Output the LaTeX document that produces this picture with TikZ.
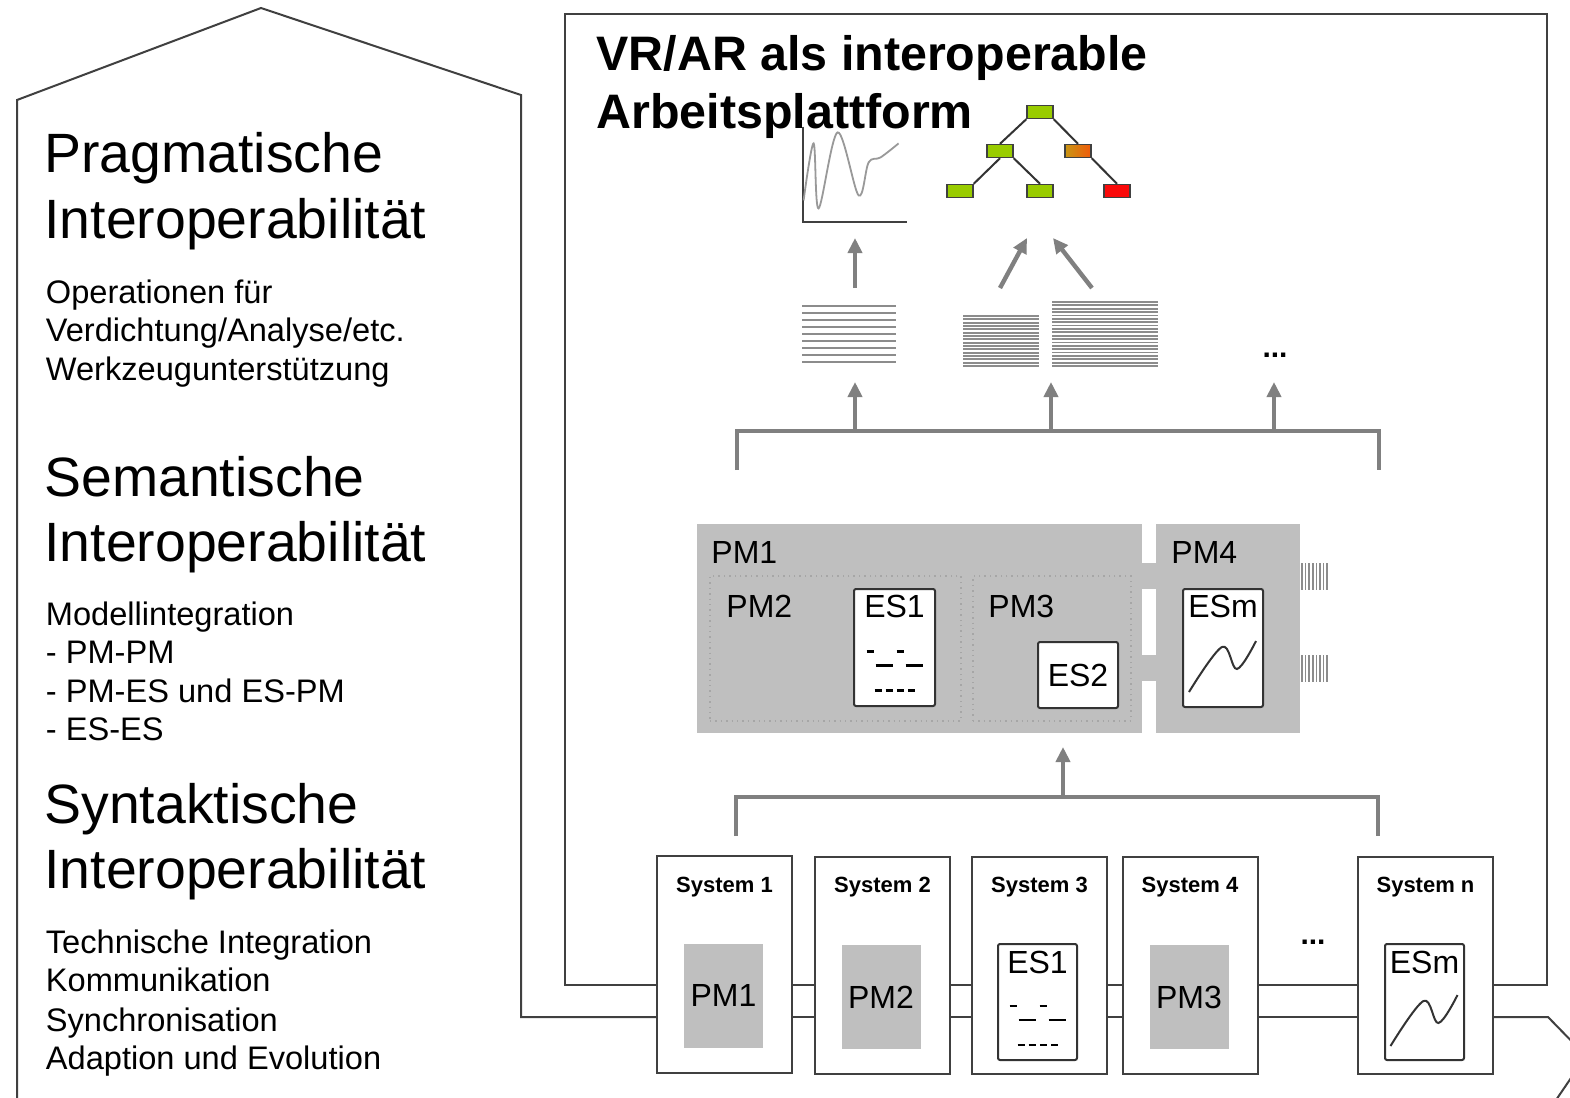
\documentclass[tikz,border=0pt]{standalone}
\usepackage{fontspec}
\setmainfont{Liberation Sans}
\usetikzlibrary{arrows.meta,shapes,calc,positioning}
\definecolor{leafgreen}{RGB}{153,204,0}
\definecolor{leafred}{RGB}{250,10,10}
\definecolor{leaforange}{RGB}{240,90,10}
\definecolor{leafolive}{RGB}{200,150,20}

\newcommand{\esdash}[1]{%
  \begin{scope}[shift={(#1.center)}]
    \draw[dashmark] (-28,4) -- (-21,4) (2,4) -- (9,4);
    \draw[dashmark] (-19,18) -- (-2,18) (11,18) -- (28,18);
    \draw[dashmark, dash pattern=on 3.6pt off 2pt] (-20,43) -- (21,43);
  \end{scope}}
\newcommand{\escurve}[1]{%
  \begin{scope}[shift={(#1.center)}]
    \draw[esline] plot[smooth, tension=0.6] coordinates {(-34,44) (-1,-1) (14,21) (33,-7)};
  \end{scope}}

\begin{document}
\begin{tikzpicture}[x=0.5pt, y=-0.5pt]
\tikzstyle{wall}=[draw=black!75, line width=1pt]
\tikzstyle{bigtxt}=[anchor=base west, inner sep=0pt, font=\fontsize{27.7}{30}\selectfont]
\tikzstyle{smalltxt}=[anchor=base west, inner sep=0pt, font=\fontsize{16.3}{18}\selectfont]
\tikzstyle{toptxt}=[anchor=base west, inner sep=0pt, font=\bfseries\fontsize{24.2}{28}\selectfont]
\tikzstyle{sysbox}=[rectangle, wall, fill=white, minimum width=67.5pt, minimum height=108.5pt, inner sep=0pt]
\tikzstyle{systxt}=[inner sep=0pt, font=\bfseries\fontsize{11}{13}\selectfont]
\tikzstyle{pmfill}=[rectangle, fill=black!25, inner sep=0pt]
\tikzstyle{pmbox}=[pmfill, minimum width=39.5pt, minimum height=52pt, font=\fontsize{16}{18}\selectfont]
\tikzstyle{pmtxt}=[anchor=west, inner sep=0pt, font=\fontsize{16}{18}\selectfont]
\tikzstyle{subframe}=[rectangle, draw=black!35, dotted, line width=0.7pt, inner sep=0pt, minimum height=72.5pt]
\tikzstyle{esbox}=[rectangle, draw=black!80, line width=1pt, fill=white, rounded corners=1pt, inner sep=0pt, minimum width=40pt, minimum height=58.5pt, font=\fontsize{16}{18}\selectfont]
\tikzstyle{estxt}=[inner sep=0pt, font=\fontsize{16}{18}\selectfont]
\tikzstyle{uparrow}=[-{Triangle[length=7.5pt,width=7pt]}, line width=2.2pt, draw=black!50]
\tikzstyle{bracket}=[line width=2pt, draw=black!50]
\tikzstyle{datline}=[draw=black!45, line width=1.1pt]
\tikzstyle{denseline}=[draw=black!45, line width=0.9pt]
\tikzstyle{combline}=[draw=black!45, line width=0.8pt]
\tikzstyle{leaf}=[rectangle, draw=black!75, line width=0.7pt, fill=leafgreen, minimum width=13pt, minimum height=6.5pt, inner sep=0pt]
\tikzstyle{branch}=[draw=black!80, line width=1pt]
\tikzstyle{esline}=[draw=black!80, line width=1pt]
\tikzstyle{chartline}=[draw=black!40, line width=0.9pt]
\tikzstyle{dashmark}=[draw=black, line width=1.3pt]
\tikzstyle{dotstxt}=[anchor=base, inner sep=0pt, font=\bfseries\fontsize{15}{17}\selectfont]

  \fill[white] (0,0) rectangle (1570,1098);
  \useasboundingbox (0,0) rectangle (1570,1098);

  \coordinate (busA) at (0,985);
  \coordinate (busB) at (0,1017);

  \node[sysbox] (s1) at (724.5,964.5) {};
  \node[sysbox] (s2) at (882.5,965) {};
  \node[sysbox] (s3) at (1039.5,965) {};
  \node[sysbox] (s4) at (1190,965) {};
  \node[sysbox] (sn) at (1425.5,965) {};
  \foreach \s/\t in {s1/System 1, s2/System 2, s3/System 3, s4/System 4, sn/System n}
    \node[systxt] (\s-t) at ($(\s.north)+(0,32)$) {\t};

  \node[pmbox] (s1pm) at ($(s1.center)+(-1,31)$) {PM1};
  \node[pmbox] (s2pm) at ($(s2.center)+(-1.5,32)$) {PM2};
  \node[esbox, minimum width=39.5pt, minimum height=58pt] (s3es) at ($(s3.center)+(-2,37)$) {};
  \node[estxt] (s3es-t) at ($(s3es.north)+(0,19)$) {ES1};
  \node[pmbox] (s4pm) at ($(s4.center)+(-1,32)$) {PM3};
  \node[esbox, minimum width=39.5pt, minimum height=58pt] (snes) at ($(sn.center)+(-1,37)$) {};
  \node[estxt] (snes-t) at ($(snes.north)+(0,19)$) {ESm};
  \esdash{s3es}
  \escurve{snes}
  \node[dotstxt] (sdots) at (1313,944) {...};

  \begin{scope}
    \clip (0,0) rectangle (1570,1098);
    \draw[wall] (17,1110) -- (17,100) -- (261,8) -- (521,95) |- (s1.west |- busB);
    \draw[wall] (sn.east |- busB) -- (1548,1017) -- (1586,1056) -- (1556,1100);
  \end{scope}
  \draw[wall] (s1.west |- busA) -| (565,14) -- (1547,14) |- (sn.east |- busA);
  \foreach \a/\b in {s1/s2, s2/s3, s3/s4, s4/sn} {
    \draw[wall] (\a.east |- busA) -- (\b.west |- busA);
    \draw[wall] (\a.east |- busB) -- (\b.west |- busB);
  }

  \node[toptxt] (vr1) at (596,70) {VR/AR als interoperable};
  \node[toptxt] (vr2) at (596,128) {Arbeitsplattform};

  \foreach \n/\y/\t in {hp1/172/Pragmatische, hp2/238/Interoperabilität, hs1/496/Semantische, hs2/561/Interoperabilität, hy1/823/Syntaktische, hy2/888/Interoperabilität}
    \node[bigtxt] (\n) at (44,\y) {\t};
  \foreach \n/\y/\t in {tp1/303/{Operationen für}, tp2/341/{Verdichtung/Analyse/etc.}, tp3/380/{Werkzeugunterstützung}, ts1/625/{Modellintegration}, ts2/663/{- PM-PM}, ts3/702/{- PM-ES und ES-PM}, ts4/740/{- ES-ES}, ty1/953/{Technische Integration}, ty2/991/{Kommunikation}, ty3/1031/{Synchronisation}, ty4/1069/{Adaption und Evolution}}
    \node[smalltxt] (\n) at (45.5,\y) {\t};

  \node[pmfill, minimum width=222.5pt, minimum height=104.5pt] (pm1) at (919.5,628.5) {};
  \node[pmfill, minimum width=72pt, minimum height=104.5pt] (pm4) at (1228,628.5) {};
  \fill[black!25] (pm1.east |- 0,563) rectangle (pm4.west |- 0,589);
  \fill[black!25] (pm1.east |- 0,655) rectangle (pm4.west |- 0,681);
  \foreach \y in {563,655}
    \foreach \i in {0,...,7}
      \draw[combline] (1302+3.6*\i,\y) -- (1302+3.6*\i,\y+27);
  \node[subframe, minimum width=125.5pt] (pm2) at (835.5,648.5) {};
  \node[subframe, minimum width=79pt] (pm3) at (1052,648.5) {};
  \node[pmtxt] (pm1-t) at (711,552) {PM1};
  \node[pmtxt] (pm2-t) at (726,606) {PM2};
  \node[pmtxt] (pm3-t) at (988,606) {PM3};
  \node[pmtxt] (pm4-t) at (1171,552) {PM4};
  \node[esbox, minimum width=40.5pt] (es1) at (894.5,647.5) {};
  \node[estxt] (es1-t) at ($(es1.north)+(0,18)$) {ES1};
  \node[esbox, minimum height=33pt] (es2) at (1078,675) {ES2};
  \node[esbox, minimum height=59pt] (esm) at (1223,648) {};
  \node[estxt] (esm-t) at ($(esm.north)+(0,18)$) {ESm};
  \esdash{es1}
  \escurve{esm}

  \draw[bracket] (736,836) |- (1378,797) -- (1378,836);
  \coordinate (lowfoot) at (1063,797);
  \draw[uparrow] (lowfoot) -- (lowfoot |- 0,747);

  \draw[bracket] (737,470) |- (1379,431) -- (1379,470);
  \foreach \x in {855,1051,1274}
    \draw[uparrow] (\x,431) -- (\x,382);

  \node[inner sep=0pt, minimum width=47pt, minimum height=28pt] (blk1) at (849,334) {};
  \foreach \i in {0,...,8}
    \draw[datline] (802,306+7*\i) -- (896,306+7*\i);
  \node[inner sep=0pt, minimum width=38pt, minimum height=25pt] (blk2) at (1001,341) {};
  \foreach \i in {0,...,15}
    \draw[denseline] (963,316+3.33*\i) -- (1039,316+3.33*\i);
  \node[inner sep=0pt, minimum width=53pt, minimum height=32pt] (blk3) at (1105,334) {};
  \foreach \i in {0,...,19}
    \draw[denseline] (1052,302+3.37*\i) -- (1158,302+3.37*\i);
  \node[dotstxt] (bdots) at (1275,357) {...};

  \node[inner sep=0pt, minimum width=52pt, minimum height=47.5pt] (chart) at (855,174.5) {};
  \draw[draw=black!75, line width=1pt] (chart.north west) |- (chart.south east);
  \begin{scope}[shift={(chart.south west)}]
    \draw[chartline] plot[smooth, tension=0.55] coordinates {(1,-22) (11,-79) (16,-14) (35,-90) (56,-27) (66,-60) (78,-65) (96,-79)};
  \end{scope}

  \node[leaf] (root) at (1040,112) {};
  \node[leaf] (c1) at (1000,151) {};
  \node[leaf, left color=leafolive, right color=leaforange] (c2) at (1078,151) {};
  \node[leaf] (l1) at (960,191) {};
  \node[leaf] (l2) at (1040,191) {};
  \node[leaf, fill=leafred] (l3) at (1117,191) {};
  \path (root.south west) edge [branch] (c1.north)
        (root.south east) edge [branch] (c2.north)
        (c1.south) edge [branch] (l1.north east)
        (c1.south east) edge [branch] (l2.north)
        (c2.south east) edge [branch] (l3.north);

  \coordinate (a1) at (855,288);
  \coordinate (a2) at (1000,288);
  \coordinate (a3) at (1092,288);
  \draw[uparrow] (a1) -- (a1 |- 0,238);
  \draw[uparrow] (a2) -- (1027,238);
  \draw[uparrow] (a3) -- (1053,238);

\end{tikzpicture}
\end{document}
